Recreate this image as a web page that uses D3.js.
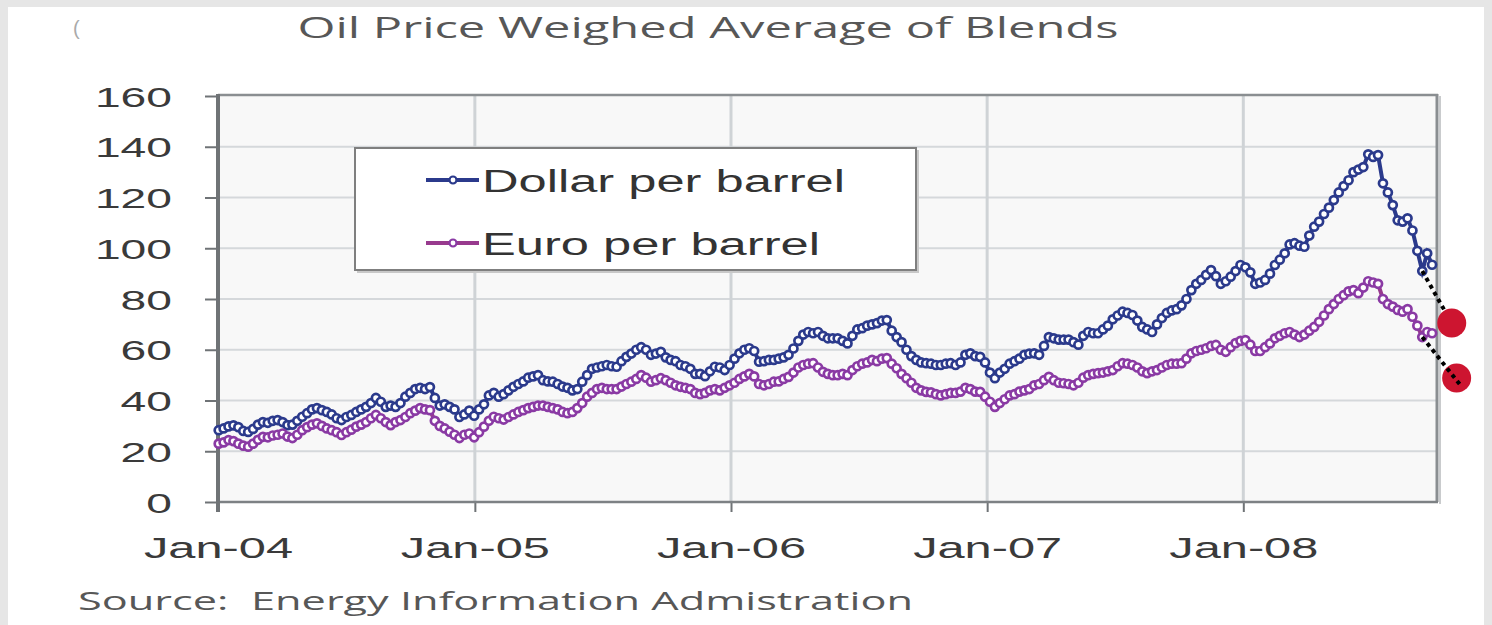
<!DOCTYPE html>
<html>
<meta charset="utf-8">
<title>Oil Price Weighed Average of Blends</title>
<style>
body {
  margin: 0;
  background: #e6e6e6;
}
svg { display: block; }
.tick text {
  font-family: "Liberation Sans", Arial, sans-serif;
  fill: #3a3a3a;
}
.title, .source {
  font-family: "Open Sans", "Noto Sans", sans-serif;
  fill: #575757;
  white-space: pre;
}
.legend text {
  font-family: "Liberation Sans", Arial, sans-serif;
  fill: #333;
}
</style>
<body>
<div id="chart"></div>
<script src="https://cdnjs.cloudflare.com/ajax/libs/d3/7.8.5/d3.min.js"></script>
<script>
// weekly prices, first week = Jan 2 2004
var dollar = [
  28.3,29,29.8,30.2,29.5,28,27.6,28.8,30.5,31.5,
  31.2,32,32.3,31.5,30.3,30.5,32,33.6,35,36.5,
  37,36.2,35.5,34.5,33,32.3,33.5,34.3,35.5,36.5,
  37.5,39,41,39.5,37.5,38,37.5,39,41.5,43,
  44.5,45,44.5,45.3,41,38,38.5,37.5,36.5,33.5,
  34.5,36,
  34,36.5,38.5,42,43,41.5,42.5,44,45.4,46.5,
  47.5,49,49.5,50,48,47.5,47.4,46.5,45.5,45,
  44,44.5,47.4,50,52.5,53,53.5,54,53.5,53.3,
  55.5,57.2,58.5,60,61,60,58,58.5,59.2,57,
  56,55.5,54,53.5,52.5,50.5,50.5,49.6,51.5,53.3,
  53,52,
  54,56.5,58.6,60,60.6,59.5,55.3,55.5,56,56,
  56.5,57,58,60.5,63.5,66,67,66.5,67,65.5,
  64.5,64.5,64.5,63.5,62.5,65.5,68,68.5,69.5,70,
  70.5,71.5,71.7,67.5,65,63,60,57.5,56,55,
  54.7,54.5,54,54,54.5,54.7,54,55,58,58.6,
  57.5,57.2,
  55,51,48.8,51,52.5,54.5,55.5,56.5,58,58.5,
  58.6,58,61.5,65,64.5,64,64,64,63,62,
  65.5,67,66.5,66.5,68,69.5,72,73.5,75,74.5,
  73.7,71.5,69,68,67,70,72.5,74.5,75.5,76,
  77.5,80,83.5,86,87.5,89.5,91.4,89,86,87,
  88.8,91,
  93.4,92.5,90.5,86,86.5,87.5,90,93.4,95.5,98,
  101.5,102,101,100.6,105,108.5,110.5,113.5,116,119,
  122,124.5,126.8,130,131,132,137,136,136.7,125.6,
  122,117,111,110.5,111.8,107,99,91,98,93.5
];
var euro = [
  23,23.5,24.4,24,23,22.2,21.8,23,24.5,25.7,
  25.5,26.2,26.5,27,25.8,25.2,26.5,28.3,29.5,30.5,
  31,30,29,28.3,27.5,26.4,27.5,28.5,29.7,30.5,
  31.5,33,34.3,33,31.5,30.3,31.5,32.3,33.5,35,
  36,37,36.5,36.2,32,30,29,27.7,26.5,25.2,
  26.5,27,
  25.5,27.5,29.7,32,33.6,33,32.5,33.5,34.5,35.5,
  36.2,37,37.5,38,38,37.5,37,36.5,35.5,35,
  35.5,37,39,41.5,43,44.5,45,44.5,44.5,44.5,
  45.5,46.5,47.4,48.5,50,49,47.4,48,48.8,48,
  47,46,45.4,45,44.5,43,42.5,43,44,44.5,
  44,45,
  46,47,48.5,49.5,50.5,49.5,46.5,46,46.5,47.4,
  47.5,48.5,49.3,51,53,54,54.5,54.7,53,51.3,
  50.5,50,50,50.5,50,52,53.5,54.5,55,56,
  55.5,56.5,56.7,54.5,52.7,50.5,48.8,47,45,44,
  43.4,43.2,42.5,42,42.5,43,43,43.5,45,44.5,
  43.5,43.4,
  41.5,39.5,37.5,39,40.5,42,42.5,43.5,44,44.5,
  46,46.5,48,49.3,48,47,46.8,46.5,46,47,
  49,50,50.5,50.8,51,51.5,52,53.5,54.7,54.5,
  54,53,51.5,50.8,51.5,52,53,54,54.5,54.5,
  54.7,56.5,58.6,59.5,60,60.6,61.5,61.9,60,59.2,
  61,62.6,
  63.5,63.8,62,59.5,59.5,61,62.5,64.5,65.5,66.5,
  67,66,65,66,67.5,69,71,73.5,76,78,
  80,81.5,83,83.5,82.3,84.5,87,86.5,86,80,
  78,77,75.7,75,76,73,69.5,65,67,66.5
];
// outlook added by hand on the original: [week, value]
var dollarOutlook = [[245, 91], [251, 70.5]];
var euroOutlook = [[245, 65], [253, 45.5]];
var outlookDots = [[251, 70.5], [252, 48.9]];

var yTicks = [0, 20, 40, 60, 80, 100, 120, 140, 160];
var xTickLabels = ["Jan-04", "Jan-05", "Jan-06", "Jan-07", "Jan-08"];
var xTickYears = [2004, 2005, 2006, 2007, 2008];
var seriesNames = ["Dollar per barrel", "Euro per barrel"];

var firstWeek = new Date(2004, 0, 2);
function weekDate(i) { return d3.timeDay.offset(firstWeek, Math.round(i * 7)); }

// Chart dimensions
var W = 1492, H = 625;
var margin = {top: 96, left: 218, right: 55, bottom: 123},
    width = W - margin.left - margin.right,
    height = H - margin.top - margin.bottom;

var svg = d3.select("#chart").append("svg")
    .attr("width", W)
    .attr("height", H);

// white sheet
svg.append("rect").attr("x", 8).attr("y", 7).attr("width", 1476).attr("height", 618).attr("fill", "#fff");

var x = d3.scaleTime()
    .domain([new Date(2004, 0, 1), new Date(2008, 9, 3)])
    .range([0, width]);
var y = d3.scaleLinear().domain([0, 160]).range([height, 0]);

var g = svg.append("g").attr("transform", "translate(" + margin.left + "," + margin.top + ")");

g.append("rect").attr("width", width).attr("height", height).attr("fill", "#f8f8f8");

// grid
g.selectAll(".hgrid").data(yTicks.slice(1, -1)).enter().append("line")
    .attr("x1", 0).attr("x2", width)
    .attr("y1", d => y(d)).attr("y2", d => y(d))
    .attr("stroke", "#d5d8db").attr("stroke-width", 2);
g.selectAll(".vgrid").data(xTickYears.slice(1)).enter().append("line")
    .attr("x1", d => x(new Date(d, 0, 1))).attr("x2", d => x(new Date(d, 0, 1)))
    .attr("y1", 0).attr("y2", height)
    .attr("stroke", "#cfd3d6").attr("stroke-width", 3);

// frame top / right
g.append("line").attr("x1", 0).attr("x2", width + 1).attr("y1", -1).attr("y2", -1)
    .attr("stroke", "#8a8e91").attr("stroke-width", 2.5);
g.append("line").attr("x1", width + 3).attr("x2", width + 3).attr("y1", 0).attr("y2", height + 2)
    .attr("stroke", "#c9cbcd").attr("stroke-width", 2);
g.append("line").attr("x1", width).attr("x2", width).attr("y1", -2).attr("y2", height)
    .attr("stroke", "#8a8e91").attr("stroke-width", 3);

// axes
var yAxis = d3.axisLeft(y).tickValues(yTicks).tickSize(13).tickPadding(33);
var ya = g.append("g").call(yAxis);
ya.select(".domain").remove();
ya.selectAll(".tick line").attr("stroke", "#6f7376").attr("stroke-width", 2);
ya.selectAll(".tick text")
    .style("font-size", "28px")
    .attr("dy", "0.36em")
    .attr("textLength", d => String(d).length * 25.7)
    .attr("lengthAdjust", "spacingAndGlyphs");

var xAxis = d3.axisBottom(x)
    .tickValues(xTickYears.map(d => new Date(d, 0, 1)))
    .tickFormat((d, i) => xTickLabels[i])
    .tickSize(10).tickPadding(25);
var xa = g.append("g").attr("transform", "translate(0," + height + ")").call(xAxis);
xa.select(".domain").remove();
xa.selectAll(".tick line").attr("stroke", "#6f7376").attr("stroke-width", 2);
xa.selectAll(".tick text")
    .style("font-size", "29px")
    .attr("textLength", 149)
    .attr("lengthAdjust", "spacingAndGlyphs");

g.append("line").attr("x1", 0).attr("x2", width + 1).attr("y1", height).attr("y2", height)
    .attr("stroke", "#7d8184").attr("stroke-width", 2.5);
g.append("line").attr("x1", 0).attr("x2", 0).attr("y1", -2).attr("y2", height + 10)
    .attr("stroke", "#6f7376").attr("stroke-width", 4);

// series
var series = [
  {name: seriesNames[0], values: dollar, line: "#2b3a8c", mark: "#2b3a8c"},
  {name: seriesNames[1], values: euro, line: "#983a8e", mark: "#8a3aa4"}
];
var line = d3.line().x((d, i) => x(weekDate(i))).y(d => y(d));

series.forEach(function(s) {
  g.append("path").datum(s.values)
      .attr("d", line)
      .attr("fill", "none")
      .attr("stroke", s.line)
      .attr("stroke-width", 4);
  g.append("g").selectAll("circle").data(s.values).enter().append("circle")
      .attr("cx", (d, i) => x(weekDate(i)))
      .attr("cy", d => y(d))
      .attr("r", 4)
      .attr("fill", "#fff")
      .attr("stroke", s.mark)
      .attr("stroke-width", 2.7);
});

// legend
var lg = svg.append("g").attr("class", "legend");
lg.append("rect").attr("x", 357).attr("y", 150).attr("width", 562).attr("height", 123)
    .attr("fill", "#c8c8c8");
lg.append("rect").attr("x", 355).attr("y", 148).attr("width", 561).attr("height", 122)
    .attr("fill", "#fff").attr("stroke", "#7f7f7f").attr("stroke-width", 2);
series.forEach(function(s, i) {
  var ly = 180 + i * 63;
  lg.append("line").attr("x1", 426).attr("x2", 479).attr("y1", ly).attr("y2", ly)
      .attr("stroke", s.line).attr("stroke-width", 4);
  lg.append("circle").attr("cx", 453).attr("cy", ly).attr("r", 3.5)
      .attr("fill", "#fff").attr("stroke", s.mark).attr("stroke-width", 2.2);
  lg.append("text").attr("x", 482).attr("y", ly + 12)
      .style("font-size", "31px")
      .attr("textLength", i == 0 ? 363 : 338)
      .attr("lengthAdjust", "spacingAndGlyphs")
      .text(s.name);
});

// hand-drawn outlook
var oline = d3.line().x(d => x(weekDate(d[0]))).y(d => y(d[1]));
g.append("path").datum(dollarOutlook).attr("d", oline)
    .attr("stroke", "#000").attr("stroke-width", 4).attr("stroke-dasharray", "4,4").attr("fill", "none");
g.selectAll(".odot").data(outlookDots).enter().append("circle")
    .attr("cx", d => x(weekDate(d[0])))
    .attr("cy", d => y(d[1]))
    .attr("r", 14.5)
    .attr("fill", "#cd1530");
g.append("path").datum(euroOutlook).attr("d", oline)
    .attr("stroke", "#000").attr("stroke-width", 4).attr("stroke-dasharray", "4,4").attr("fill", "none");

// texts
svg.append("text").attr("class", "title")
    .attr("x", 708).attr("y", 38)
    .attr("text-anchor", "middle")
    .style("font-size", "29px")
    .attr("textLength", 821).attr("lengthAdjust", "spacingAndGlyphs")
    .text("Oil Price Weighed Average of Blends");
svg.append("text").attr("x", 73).attr("y", 35)
    .style("font-size", "20px").style("font-family", "Liberation Sans").attr("fill", "#aaa")
    .text("(");
svg.append("text").attr("class", "source")
    .attr("x", 78).attr("y", 610)
    .style("font-size", "26px")
    .attr("textLength", 835).attr("lengthAdjust", "spacingAndGlyphs")
    .text("Source:  Energy Information Admistration");
</script>
</body>
</html>
